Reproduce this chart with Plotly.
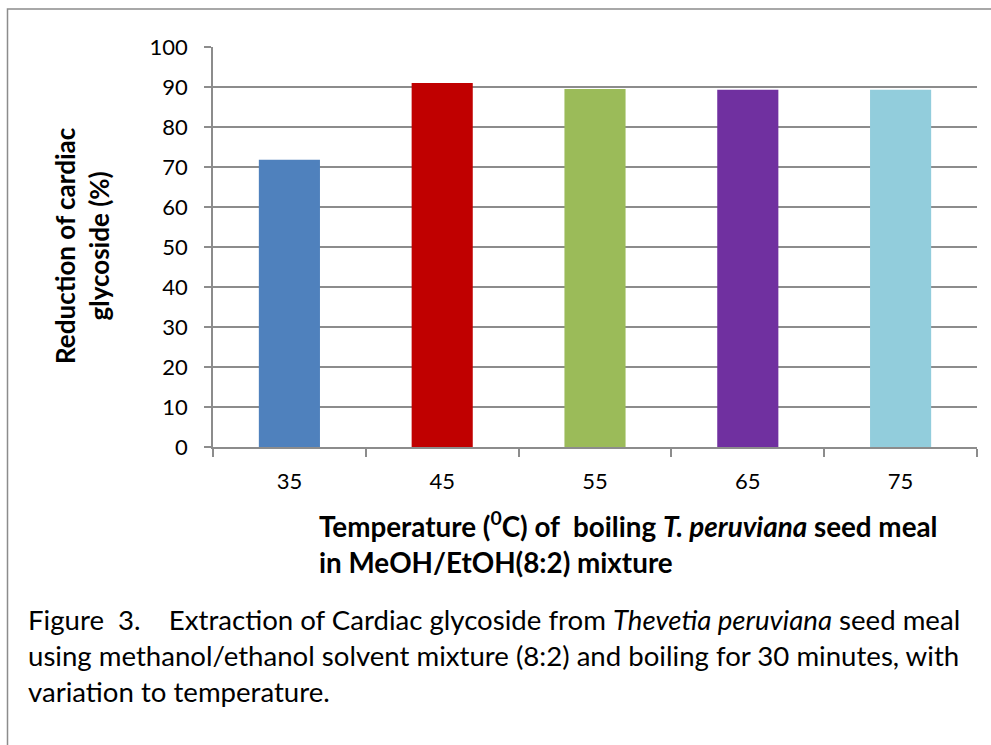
import plotly.graph_objects as go

categories = ["35", "45", "55", "65", "75"]
values = [71.8, 91.0, 89.5, 89.3, 89.3]
colors = ["#4f81bd", "#c00000", "#9bbb59", "#7030a0", "#92cddc"]

W, H = 991, 745
L, R, T, B = 213, 14, 47, 298
pw, ph = W - L - R, H - T - B

def px_x(x):
    return (x - L) / pw

def px_y(y):
    return (H - B - y) / ph

FONT = "Lato"

fig = go.Figure(go.Bar(x=categories, y=values, marker=dict(color=colors, line=dict(width=0)), width=0.4))

fig.update_layout(
    width=W, height=H, margin=dict(l=L, r=R, t=T, b=B, pad=0),
    paper_bgcolor="white", plot_bgcolor="white", showlegend=False,
    font=dict(family=FONT, color="black", size=22),
)
fig.update_yaxes(range=[0, 100], dtick=10, showgrid=True, gridcolor="#8c8c8c", gridwidth=1.5,
                 ticks="outside", ticklen=7, tickcolor="#8c8c8c", tickwidth=1.5,
                 showline=True, linecolor="#8c8c8c", linewidth=1.5, zeroline=False,
                 ticklabelstandoff=12, tickfont=dict(size=22, family=FONT))
fig.update_xaxes(type="category", tickson="boundaries", ticks="outside", ticklen=8,
                 tickcolor="#8c8c8c", tickwidth=1.5, showline=True, linecolor="#8c8c8c",
                 linewidth=1.5, showgrid=False, ticklabelstandoff=14, tickfont=dict(size=22, family=FONT))

# Y-axis title
fig.add_annotation(text="<b>Reduction of cardiac<br>glycoside (%)</b>", xref="paper", yref="paper",
                   x=px_x(82), y=px_y(246), textangle=-90, showarrow=False,
                   font=dict(size=26, family=FONT), align="center", xanchor="center", yanchor="middle")
# X-axis title
fig.add_annotation(text="<b>Temperature (<sup>0</sup>C) of  boiling <i>T. peruviana</i> seed meal<br>in MeOH/EtOH(8:2) mixture</b>",
                   xref="paper", yref="paper", x=px_x(317), y=px_y(504), showarrow=False,
                   font=dict(size=27.8, family=FONT), align="left", xanchor="left", yanchor="top")
# Caption
fig.add_annotation(text="Figure  3.    Extraction of Cardiac glycoside from <i>Thevetia peruviana</i> seed meal<br>"
                        "using methanol/ethanol solvent mixture (8:2) and boiling for 30 minutes, with<br>"
                        "variation to temperature.",
                   xref="paper", yref="paper", x=px_x(26), y=px_y(601), showarrow=False,
                   font=dict(size=27.6, family=FONT), align="left", xanchor="left", yanchor="top")

# Outer frame
fig.add_shape(type="rect", xref="paper", yref="paper", x0=px_x(7.5), x1=px_x(1005), y0=px_y(9), y1=px_y(760),
              line=dict(color="#8c8c8c", width=1.5), fillcolor="rgba(0,0,0,0)", layer="below")

fig.write_html("out.html")
